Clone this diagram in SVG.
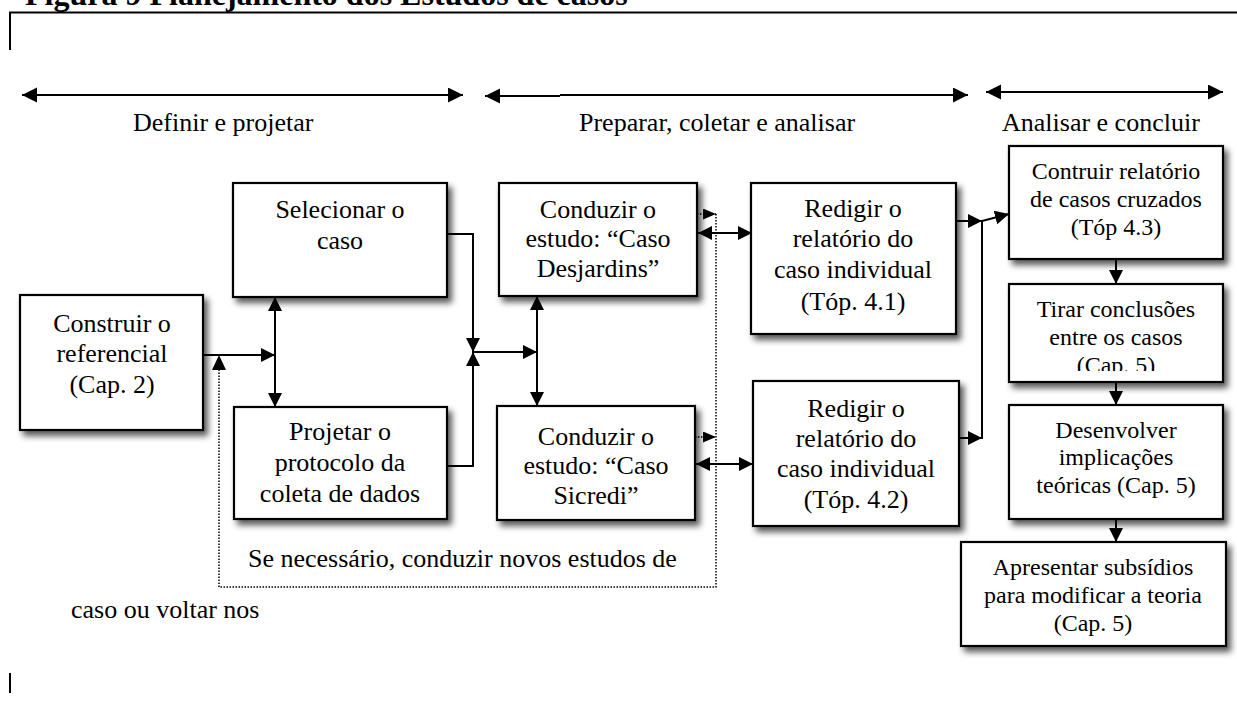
<svg xmlns="http://www.w3.org/2000/svg" width="1237" height="702" viewBox="0 0 1237 702">
<style>
.t{font-family:"Liberation Serif","Times New Roman",serif;font-size:26px;fill:#000;text-anchor:middle}
.s{font-size:24px}
.h{font-family:"Liberation Serif","Times New Roman",serif;font-size:26px;fill:#000}
.box{fill:#fff;stroke:#000;stroke-width:2.2;filter:url(#sh)}
.c{fill:none;stroke:#000;stroke-width:2}
.d{fill:none;stroke:#000;stroke-width:1.5;stroke-dasharray:1.5 1.5}
</style>
<defs>
<filter id="sh" x="-10%" y="-10%" width="130%" height="130%">
<feDropShadow dx="4" dy="5" stdDeviation="3" flood-color="#000" flood-opacity="0.65"/>
</filter>
<marker id="a" markerUnits="userSpaceOnUse" markerWidth="15" markerHeight="15" refX="14" refY="7" orient="auto-start-reverse">
<path d="M0,0 L14,7 L0,14 z" fill="#000"/>
</marker>
<marker id="b" markerUnits="userSpaceOnUse" markerWidth="16" markerHeight="16" refX="15" refY="7.5" orient="auto-start-reverse">
<path d="M0,0 L15,7.5 L0,15 z" fill="#000"/>
</marker>
<marker id="m" markerUnits="userSpaceOnUse" markerWidth="14" markerHeight="12" refX="13" refY="5.5" orient="auto-start-reverse">
<path d="M0,0 L13,5.5 L0,11 z" fill="#000"/>
</marker>
<clipPath id="clipTirar"><rect x="1009" y="284" width="214" height="87"/></clipPath>
</defs>
<rect width="1237" height="702" fill="#fff"/>

<text x="25" y="5" font-family="'Liberation Serif','Times New Roman',serif" font-size="32" font-weight="bold">Figura 9 Planejamento dos Estudos de casos</text>
<g id="frame" fill="none" stroke="#000" stroke-width="2">
<path d="M10,50 V12.5 H1237"/>
<path d="M10,673 V693"/>
</g>

<g id="phases">
<path class="c" d="M22,95 H463" stroke-width="2.5" marker-start="url(#b)" marker-end="url(#b)"/>
<path class="c" d="M485,96 H560" stroke-width="2.5" marker-start="url(#b)"/>
<path class="c" d="M560,95 H893" stroke-width="1"/>
<path class="c" d="M893,95 H968" stroke-width="2.5" marker-end="url(#b)"/>
<path class="c" d="M986,92 H1223" stroke-width="2.5" marker-start="url(#b)" marker-end="url(#b)"/>
<text class="h" x="133" y="131">Definir e projetar</text>
<text class="h" x="579" y="131">Preparar, coletar e analisar</text>
<text class="h" x="1002" y="131">Analisar e concluir</text>
</g>

<g id="connectors">
<path class="d" d="M716,214 V587 H219 V357"/>
<path d="M219,355 l-7,15 h14 z" fill="#000"/>
<path class="c" d="M203,355 H275" marker-end="url(#a)"/>
<path class="c" d="M275,297 V407" marker-start="url(#a)" marker-end="url(#a)"/>
<path class="c" d="M447,234 H473 V352" marker-end="url(#a)"/>
<path class="c" d="M447,466 H473 V352" marker-end="url(#a)"/>
<path class="c" d="M473,352 H537" marker-end="url(#a)"/>
<path class="c" d="M537,296 V406" marker-start="url(#a)" marker-end="url(#a)"/>
<path class="d" d="M697,214 H716" marker-end="url(#m)"/>
<path class="d" d="M695,437 H716" marker-end="url(#m)"/>
<path class="c" d="M698,233 H752" marker-start="url(#a)" marker-end="url(#a)"/>
<path class="c" d="M696,464 H753" marker-start="url(#a)" marker-end="url(#a)"/>
<path class="c" d="M956,221 H982" marker-end="url(#a)"/>
<path class="c" d="M959,438 H982" marker-end="url(#a)"/>
<path class="c" d="M982,220 V439" stroke-width="2.5"/>
<path class="c" d="M982,221 L1009,214" marker-end="url(#a)"/>
<path class="c" d="M1116,259 V284" marker-end="url(#a)"/>
<path class="c" d="M1116,382 V405" marker-end="url(#a)"/>
<path class="c" d="M1116,519 V542" marker-end="url(#a)"/>
</g>

<g id="n_construir">
<rect class="box" x="20" y="295" width="183" height="135"/>
<text class="t" x="112" y="332">Construir o</text>
<text class="t" x="112" y="362">referencial</text>
<text class="t" x="112" y="393">(Cap. 2)</text>
</g>
<g id="n_selecionar">
<rect class="box" x="233" y="183" width="214" height="114"/>
<text class="t" x="340" y="218">Selecionar o</text>
<text class="t" x="340" y="249">caso</text>
</g>
<g id="n_projetar">
<rect class="box" x="234" y="407" width="213" height="112"/>
<text class="t" x="340" y="440">Projetar o</text>
<text class="t" x="340" y="471">protocolo da</text>
<text class="t" x="340" y="502">coleta de dados</text>
</g>
<g id="n_desjardins">
<rect class="box" x="499" y="183" width="198" height="113"/>
<text class="t" x="598" y="218">Conduzir o</text>
<text class="t" x="598" y="247">estudo: “Caso</text>
<text class="t" x="598" y="277">Desjardins”</text>
</g>
<g id="n_sicredi">
<rect class="box" x="497" y="406" width="198" height="114"/>
<text class="t" x="596" y="445">Conduzir o</text>
<text class="t" x="596" y="474">estudo: “Caso</text>
<text class="t" x="596" y="504">Sicredi”</text>
</g>
<g id="n_redigir1">
<rect class="box" x="751" y="183" width="205" height="151"/>
<text class="t" x="853" y="217">Redigir o</text>
<text class="t" x="853" y="247">relatório do</text>
<text class="t" x="853" y="278">caso individual</text>
<text class="t" x="853" y="310">(Tóp. 4.1)</text>
</g>
<g id="n_redigir2">
<rect class="box" x="753" y="381" width="206" height="145"/>
<text class="t" x="856" y="417">Redigir o</text>
<text class="t" x="856" y="447">relatório do</text>
<text class="t" x="856" y="477">caso individual</text>
<text class="t" x="856" y="508">(Tóp. 4.2)</text>
</g>
<g id="n_contruir">
<rect class="box" x="1009" y="146" width="214" height="113"/>
<text class="t s" x="1116" y="179">Contruir relatório</text>
<text class="t s" x="1116" y="207">de casos cruzados</text>
<text class="t s" x="1116" y="235">(Tóp 4.3)</text>
</g>
<g id="n_tirar">
<rect class="box" x="1009" y="284" width="214" height="98"/>
<g clip-path="url(#clipTirar)">
<text class="t s" x="1116" y="317">Tirar conclusões</text>
<text class="t s" x="1116" y="345">entre os casos</text>
<text class="t s" x="1116" y="373">(Cap. 5)</text>
</g>
</g>
<g id="n_desenvolver">
<rect class="box" x="1009" y="405" width="214" height="114"/>
<text class="t s" x="1116" y="438">Desenvolver</text>
<text class="t s" x="1116" y="465">implicações</text>
<text class="t s" x="1116" y="493">teóricas (Cap. 5)</text>
</g>
<g id="n_apresentar">
<rect class="box" x="961" y="542" width="265" height="104"/>
<text class="t s" x="1093" y="575">Apresentar subsídios</text>
<text class="t s" x="1093" y="603">para modificar a teoria</text>
<text class="t s" x="1093" y="631">(Cap. 5)</text>
</g>

<g id="notes">
<text class="h" x="248" y="567">Se necessário, conduzir novos estudos de</text>
<text class="h" x="71" y="618">caso ou voltar nos</text>
</g>
</svg>
